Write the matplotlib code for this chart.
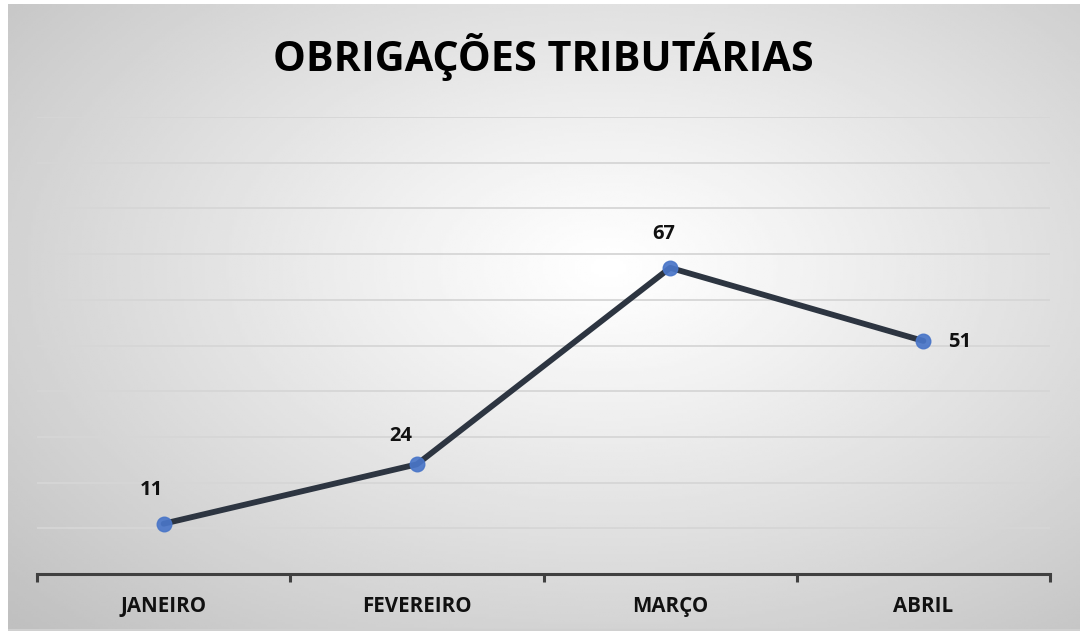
import numpy as np
import matplotlib
matplotlib.use('Agg')
import matplotlib.pyplot as plt

# chart data
months = ['JANEIRO', 'FEVEREIRO', 'MARÇO', 'ABRIL']
values = [11, 24, 67, 51]
title = 'OBRIGAÇÕES TRIBUTÁRIAS'

W, H = 1080, 631
fig = plt.figure(figsize=(W / 100, H / 100), dpi=100)
fig.patch.set_facecolor('white')

# radial grey background of the chart area
bg = fig.add_axes([8 / W, 0, 1 - 8 / W, 1 - 4 / H])
bg.set_axis_off()
gx, gy = np.meshgrid(np.linspace(0, 1, 400), np.linspace(0, 1, 240))
d = np.sqrt(((gx - 0.56) / 0.55) ** 2 + ((gy - 0.42) / 0.58) ** 2) / np.sqrt(2)
shade = 1 - 0.25 * np.clip(d, 0, 1) ** 1.1
bg.imshow(shade, cmap='gray', vmin=0, vmax=1, aspect='auto', extent=[0, 1, 1, 0])
bg.axhline(0.999, color='#d0d0d0', lw=1.5)

# plot area
ax = fig.add_axes([37 / W, 1 - 574 / H, (1050 - 37) / W, (574 - 117) / H])
ax.patch.set_alpha(0)
x = np.arange(len(months))
ax.set_xlim(-0.5, len(months) - 0.5)
ax.set_ylim(0, 100)
ax.set_yticks(np.arange(10, 101, 10))
ax.yaxis.grid(True, color='#d6d6d6', lw=1.3)
ax.set_axisbelow(True)
ax.tick_params(axis='y', length=0, labelleft=False)
for s in ['left', 'right', 'top']:
    ax.spines[s].set_visible(False)
ax.spines['bottom'].set_color('#404040')
ax.spines['bottom'].set_linewidth(2.2)

ax.set_xticks(x)
ax.set_xticklabels(months, fontsize=14.8, fontweight='bold', family='Open Sans', color='#111111')
ax.set_xticks(np.arange(-0.5, len(months), 1), minor=True)
ax.tick_params(axis='x', which='major', length=0, pad=16)
ax.tick_params(axis='x', which='minor', length=6, width=2.2, color='#404040', direction='out')

ax.plot(x, values, color='#2d3541', lw=4.2, solid_capstyle='round', zorder=3)
ax.plot(x, values, 'o', color='#4a76c8', ms=10.5, mec='#4a76c8', alpha=0.92, zorder=4)

offsets = [(-12, 34), (-16, 28), (-6, 34), (36, -1)]
for xi, v, off in zip(x, values, offsets):
    ax.annotate(str(v), (xi, v), xytext=off, textcoords='offset pixels',
                ha='center', va='center', fontsize=14.5, fontweight='bold',
                family='Open Sans', color='#111111')

fig.text(543 / W, 1 - 57 / H, title, ha='center', va='center', fontsize=29.8,
         fontweight='bold', family='Open Sans', color='black')

fig.savefig('out.png', dpi=100)
